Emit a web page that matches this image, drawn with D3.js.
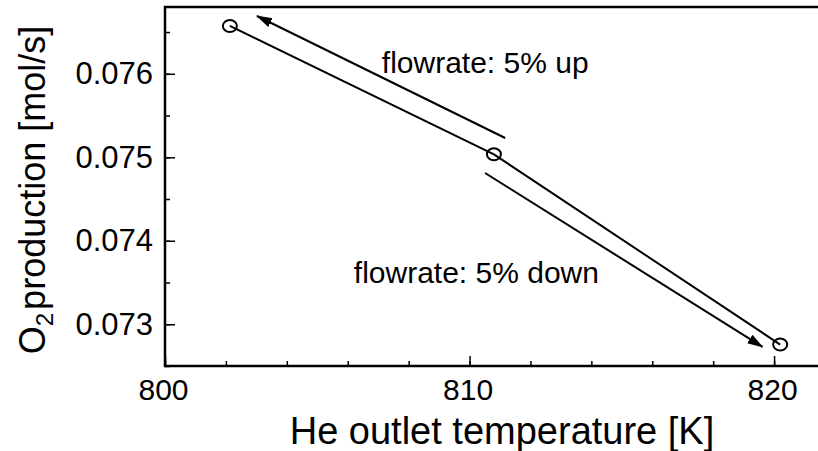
<!DOCTYPE html>
<html>
<head>
<meta charset="utf-8">
<script src="https://cdn.jsdelivr.net/npm/d3@7"></script>
<style>
  body { margin: 0; background: #fff; }
  svg { display: block; font-family: Arial, "Liberation Sans", sans-serif; }
  .axis path, .axis line { stroke: #000; }
  .axis text { fill: #000; }
</style>
</head>
<body>
<svg id="chart" width="818" height="451"></svg>
<script>
// measured points: He outlet temperature [K] vs O2 production [mol/s]
var temps = [802.13, 810.8, 820.2];
var o2prod = [0.076573, 0.075035, 0.072757];

// annotation arrows (from -> to, in data units)
var arrowFrom = [[811.17, 0.075231], [810.51, 0.074812]];
var arrowTo = [[803.02, 0.076692], [819.62, 0.072728]];
var arrowLabels = ["flowrate: 5% up", "flowrate: 5% down"];
var labelPos = [[807.12, 0.07601], [806.2, 0.07349]];

var xTicks = [800, 810, 820];
var xMinor = d3.range(800, 822, 2);
var yTicks = [0.073, 0.074, 0.075, 0.076];
var yMinor = d3.range(0.0725, 0.0768, 0.0005);

var svg = d3.select("#chart");
var width = +svg.attr("width");
var height = +svg.attr("height");

var x = d3.scaleLinear().domain([800, 822]).range([165, 835]);
var y = d3.scaleLinear().domain([0.0725, 0.0768]).range([366, 7]);

// minor ticks (inward)
var xAxisMinor = d3.axisTop(x).tickValues(xMinor).tickSize(5).tickFormat("");
var yAxisMinor = d3.axisRight(y).tickValues(yMinor).tickSize(5).tickFormat("");

svg.append("g").attr("class", "axis")
  .attr("transform", "translate(0," + y.range()[0] + ")")
  .call(xAxisMinor)
  .call(function(g){ g.select(".domain").remove(); })
  .selectAll("line").attr("stroke-width", 1.5);

svg.append("g").attr("class", "axis")
  .attr("transform", "translate(" + x.range()[0] + ",0)")
  .call(yAxisMinor)
  .call(function(g){ g.select(".domain").remove(); })
  .selectAll("line").attr("stroke-width", 1.5);

// major ticks, labels outside
var gx = svg.append("g").attr("class", "axis")
  .attr("transform", "translate(0," + y.range()[0] + ")")
  .call(d3.axisBottom(x).tickValues(xTicks).tickSize(-10).tickPadding(13).tickFormat(d3.format("d")));
gx.select(".domain").remove();
gx.selectAll("line").attr("stroke-width", 1.5);
gx.selectAll("text").attr("font-size", 30).attr("dx", -2);

var gy = svg.append("g").attr("class", "axis")
  .attr("transform", "translate(" + x.range()[0] + ",0)")
  .call(d3.axisLeft(y).tickValues(yTicks).tickSize(-10).tickPadding(12).tickFormat(d3.format(".3f")));
gy.select(".domain").remove();
gy.selectAll("line").attr("stroke-width", 1.5);
gy.selectAll("text").attr("font-size", 31);

// frame (right side runs off the page)
svg.append("rect")
  .attr("x", x.range()[0]).attr("y", y.range()[1])
  .attr("width", x.range()[1] - x.range()[0])
  .attr("height", y.range()[0] - y.range()[1])
  .attr("fill", "none").attr("stroke", "#000").attr("stroke-width", 2.5);

// arrow head
svg.append("defs").append("marker")
  .attr("id", "head")
  .attr("markerUnits", "userSpaceOnUse")
  .attr("viewBox", "0 0 16 12")
  .attr("refX", 15).attr("refY", 6)
  .attr("markerWidth", 16).attr("markerHeight", 12)
  .attr("orient", "auto")
  .append("path").attr("d", "M0,1 L16,6 L0,11 Z").attr("fill", "#000");

// data line
var pts = temps.map(function(t, i){ return [t, o2prod[i]]; });
var line = d3.line().x(function(d){ return x(d[0]); }).y(function(d){ return y(d[1]); });

svg.append("path").datum(pts)
  .attr("d", line)
  .attr("fill", "none").attr("stroke", "#000").attr("stroke-width", 2);

svg.selectAll(".pt").data(pts).enter().append("ellipse")
  .attr("class", "pt")
  .attr("cx", function(d){ return x(d[0]); })
  .attr("cy", function(d){ return y(d[1]); })
  .attr("rx", 7).attr("ry", 6)
  .attr("fill", "none").attr("stroke", "#000").attr("stroke-width", 2);

// arrows
svg.selectAll(".arrow").data(arrowFrom).enter().append("line")
  .attr("class", "arrow")
  .attr("x1", function(d){ return x(d[0]); })
  .attr("y1", function(d){ return y(d[1]); })
  .attr("x2", function(d, i){ return x(arrowTo[i][0]); })
  .attr("y2", function(d, i){ return y(arrowTo[i][1]); })
  .attr("stroke", "#000").attr("stroke-width", 2)
  .attr("marker-end", "url(#head)");

svg.selectAll(".lbl").data(arrowLabels).enter().append("text")
  .attr("class", "lbl")
  .attr("x", function(d, i){ return x(labelPos[i][0]); })
  .attr("y", function(d, i){ return y(labelPos[i][1]); })
  .attr("font-size", 30)
  .text(function(d){ return d; });

// axis titles
svg.append("text")
  .attr("x", 502).attr("y", 444)
  .attr("text-anchor", "middle")
  .attr("font-size", 38)
  .text("He outlet temperature [K]");

var yt = svg.append("text")
  .attr("transform", "translate(45,190) rotate(-90)")
  .attr("text-anchor", "middle")
  .attr("font-size", 36);
yt.append("tspan").text("O");
yt.append("tspan").attr("font-size", 24).attr("dy", 8).text("2");
yt.append("tspan").attr("dy", -8).attr("dx", 3).text("production [mol/s]");
</script>
</body>
</html>
